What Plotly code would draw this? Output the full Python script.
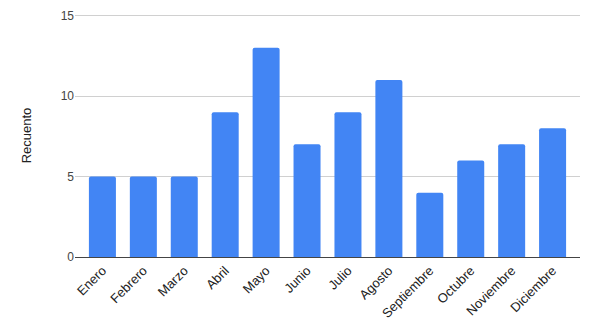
import plotly.graph_objects as go

meses = ["Enero", "Febrero", "Marzo", "Abril", "Mayo", "Junio", "Julio",
         "Agosto", "Septiembre", "Octubre", "Noviembre", "Diciembre"]
recuento = [5, 5, 5, 9, 13, 7, 9, 11, 4, 6, 7, 8]
y_ticks = [0, 5, 10, 15]

fig = go.Figure(go.Bar(x=meses, y=recuento, marker_color="#4285F4",
                       marker_line_width=0, marker_cornerradius=2))
fig.update_layout(
    width=591, height=322,
    margin=dict(l=67, r=19, t=6, b=73, autoexpand=False),
    paper_bgcolor="white", plot_bgcolor="white",
    bargap=0.34,
    font=dict(family="Liberation Sans, Arial, sans-serif", size=12, color="#222222"),
    showlegend=False,
)
fig.update_xaxes(tickangle=-45, showgrid=False, showline=True, linecolor="#444444",
                 linewidth=1, ticks="", automargin=False, range=[-0.67, 11.67],
                 tickfont=dict(size=13, color="#222222"))
fig.update_yaxes(range=[0, 15.1], tickvals=y_ticks, showgrid=True, gridcolor="#d0d0d0",
                 zeroline=False, ticks="", ticklen=0, automargin=False,
                 title=dict(text="Recuento", font=dict(size=13, color="#222222"), standoff=26),
                 tickfont=dict(size=12, color="#444444"))
fig.write_html("out.html")
